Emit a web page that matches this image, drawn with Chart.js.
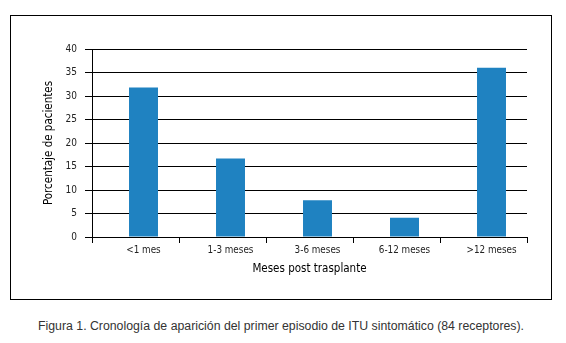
<!DOCTYPE html>
<html>
<head>
<meta charset="utf-8">
<script src="https://cdn.jsdelivr.net/npm/chart.js@4/dist/chart.umd.min.js"></script>
<style>
  html, body { margin: 0; padding: 0; background: #fff; width: 566px; height: 343px; overflow: hidden; }
  #box { position: absolute; left: 10px; top: 15px; width: 540px; height: 283px; border: 1px solid #000; }
  #wrap { position: absolute; left: 0; top: 0; width: 540px; height: 283px; }
  #caption { position: absolute; left: 0; top: 319px; width: 562px; text-align: center;
    font-family: "Liberation Sans", Arial, sans-serif; font-size: 12.3px; line-height: 14px; color: #333; }
</style>
</head>
<body>
<div id="box"><div id="wrap"><canvas id="c"></canvas></div></div>
<div id="caption">Figura 1. Cronología de aparición del primer episodio de ITU sintomático (84 receptores).</div>
<script>
// ---- data ----
const categories = ['<1 mes', '1-3 meses', '3-6 meses', '6-12 meses', '>12 meses'];
const percentages = [31.8, 16.7, 7.8, 4.1, 36.0];
const yTicks = [0, 5, 10, 15, 20, 25, 30, 35, 40];
const xTitle = 'Meses post trasplante';
const yTitle = 'Porcentaje de pacientes';

// ---- layout/style ----
const BAR_SHIFT = 0.592;   // bars sit right of category centre, relative to boundary ticks
const cond = '"DejaVu Sans Condensed", "Liberation Sans Narrow", sans-serif';

const points = categories.map((c, i) => ({ x: i, y: percentages[i] }));
const boundaries = categories.map((c, i) => i - BAR_SHIFT).concat([categories.length - BAR_SHIFT]);

new Chart(document.getElementById('c'), {
  type: 'bar',
  data: {
    datasets: [{
      data: points,
      backgroundColor: '#1f82c1',
      borderWidth: 0,
      barPercentage: 0.333,
      categoryPercentage: 1
    }]
  },
  options: {
    responsive: true,
    maintainAspectRatio: false,
    animation: false,
    layout: { padding: { top: 33, right: 24, left: 0, bottom: 0 } },
    plugins: { legend: { display: false }, tooltip: { enabled: false } },
    scales: {
      x: {
        type: 'linear',
        offset: false,
        min: boundaries[0],
        max: boundaries[boundaries.length - 1],
        afterBuildTicks: (s) => { s.ticks = boundaries.map(v => ({ value: v })); },
        afterFit: (s) => { s.height = 62; },
        grid: { offset: false, drawOnChartArea: false, drawTicks: true, tickLength: 6, color: '#000', lineWidth: 1 },
        border: { display: true, color: '#000', width: 1 },
        ticks: {
          autoSkip: false, maxRotation: 0, minRotation: 0,
          labelOffset: 51.5,
          padding: 2,
          color: '#222',
          font: { family: cond, size: 9.8 },
          callback: (v, i) => categories[i] !== undefined ? categories[i] : ''
        },
        title: {
          display: true, text: xTitle, color: '#000',
          font: { family: cond, size: 11.5 },
          padding: { top: 0, bottom: 23 }
        }
      },
      y: {
        min: 0, max: 40,
        afterBuildTicks: (s) => { s.ticks = yTicks.map(v => ({ value: v })); },
        afterFit: (s) => { s.width = 81; },
        grid: { color: '#000', lineWidth: 1, drawTicks: true, tickLength: 7 },
        border: { display: true, color: '#000', width: 1 },
        ticks: {
          padding: 8, color: '#222',
          font: { family: cond, size: 10 }
        },
        title: {
          display: true, text: yTitle, color: '#000',
          font: { family: cond, size: 11.5 },
          padding: { top: 31, bottom: 0 }
        }
      }
    }
  }
});
</script>
</body>
</html>
